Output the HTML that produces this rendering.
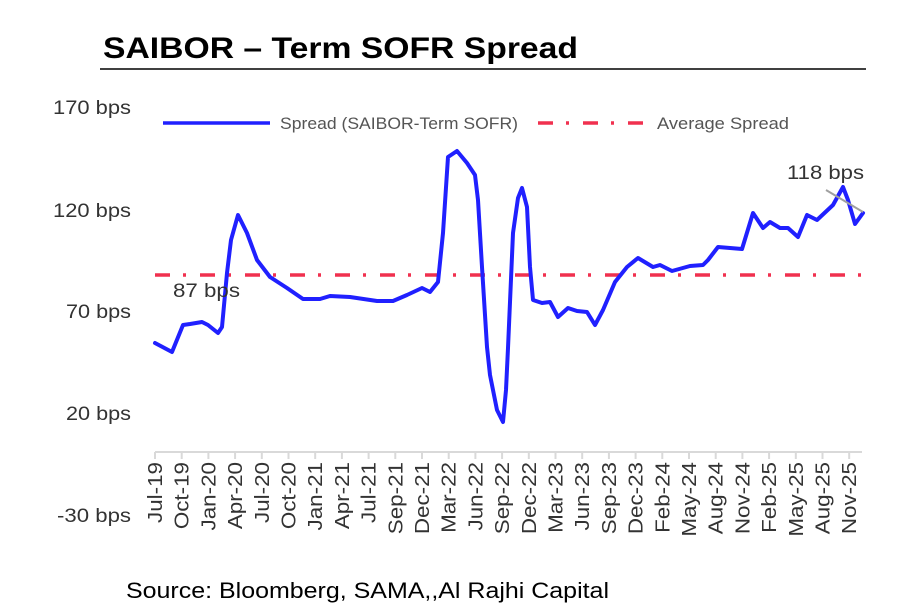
<!DOCTYPE html>
<html><head><meta charset="utf-8"><style>
html,body{margin:0;padding:0;background:#fff;}
svg{display:block;}
</style></head><body>
<svg width="903" height="615" xmlns="http://www.w3.org/2000/svg" font-family="Liberation Sans, sans-serif">
<text x="103" y="58" font-size="30" font-weight="bold" fill="#000" textLength="475" lengthAdjust="spacingAndGlyphs">SAIBOR – Term SOFR Spread</text>
<line x1="100" y1="69" x2="866" y2="69" stroke="#000" stroke-width="1.5"/>
<g font-size="19" fill="#333" text-anchor="end">
<text x="131" y="114" textLength="78" lengthAdjust="spacingAndGlyphs">170 bps</text>
<text x="131" y="217" textLength="78" lengthAdjust="spacingAndGlyphs">120 bps</text>
<text x="131" y="318" textLength="65" lengthAdjust="spacingAndGlyphs">70 bps</text>
<text x="131" y="420" textLength="65" lengthAdjust="spacingAndGlyphs">20 bps</text>
<text x="131" y="522" textLength="74" lengthAdjust="spacingAndGlyphs">-30 bps</text>
</g>
<line x1="163" y1="123" x2="270" y2="123" stroke="#2020ff" stroke-width="3.5"/>
<text x="280" y="129" font-size="17" fill="#555" textLength="238" lengthAdjust="spacingAndGlyphs">Spread (SAIBOR-Term SOFR)</text>
<line x1="538" y1="123" x2="646" y2="123" stroke="#f0304f" stroke-width="3.5" stroke-dasharray="15 13 3 14"/>
<text x="657" y="129" font-size="17" fill="#555" textLength="132" lengthAdjust="spacingAndGlyphs">Average Spread</text>
<line x1="155" y1="452" x2="862" y2="452" stroke="#d9d9d9" stroke-width="2"/>
<g stroke="#d9d9d9" stroke-width="2">
<line x1="155" y1="452" x2="155" y2="459"/>
<line x1="181.7" y1="452" x2="181.7" y2="459"/>
<line x1="208.4" y1="452" x2="208.4" y2="459"/>
<line x1="235.1" y1="452" x2="235.1" y2="459"/>
<line x1="261.8" y1="452" x2="261.8" y2="459"/>
<line x1="288.5" y1="452" x2="288.5" y2="459"/>
<line x1="315.2" y1="452" x2="315.2" y2="459"/>
<line x1="341.9" y1="452" x2="341.9" y2="459"/>
<line x1="368.6" y1="452" x2="368.6" y2="459"/>
<line x1="395.3" y1="452" x2="395.3" y2="459"/>
<line x1="422" y1="452" x2="422" y2="459"/>
<line x1="448.7" y1="452" x2="448.7" y2="459"/>
<line x1="475.4" y1="452" x2="475.4" y2="459"/>
<line x1="502.1" y1="452" x2="502.1" y2="459"/>
<line x1="528.8" y1="452" x2="528.8" y2="459"/>
<line x1="555.5" y1="452" x2="555.5" y2="459"/>
<line x1="582.2" y1="452" x2="582.2" y2="459"/>
<line x1="608.9" y1="452" x2="608.9" y2="459"/>
<line x1="635.6" y1="452" x2="635.6" y2="459"/>
<line x1="662.3" y1="452" x2="662.3" y2="459"/>
<line x1="689" y1="452" x2="689" y2="459"/>
<line x1="715.7" y1="452" x2="715.7" y2="459"/>
<line x1="742.4" y1="452" x2="742.4" y2="459"/>
<line x1="769.1" y1="452" x2="769.1" y2="459"/>
<line x1="795.8" y1="452" x2="795.8" y2="459"/>
<line x1="822.5" y1="452" x2="822.5" y2="459"/>
<line x1="849.2" y1="452" x2="849.2" y2="459"/>
</g>
<g font-size="20" fill="#333" text-anchor="end">
<text transform="translate(162,462) rotate(-90) scale(1.12,1)">Jul-19</text>
<text transform="translate(188.7,462) rotate(-90) scale(1.12,1)">Oct-19</text>
<text transform="translate(215.4,462) rotate(-90) scale(1.12,1)">Jan-20</text>
<text transform="translate(242.1,462) rotate(-90) scale(1.12,1)">Apr-20</text>
<text transform="translate(268.8,462) rotate(-90) scale(1.12,1)">Jul-20</text>
<text transform="translate(295.5,462) rotate(-90) scale(1.12,1)">Oct-20</text>
<text transform="translate(322.2,462) rotate(-90) scale(1.12,1)">Jan-21</text>
<text transform="translate(348.9,462) rotate(-90) scale(1.12,1)">Apr-21</text>
<text transform="translate(375.6,462) rotate(-90) scale(1.12,1)">Jul-21</text>
<text transform="translate(402.3,462) rotate(-90) scale(1.12,1)">Sep-21</text>
<text transform="translate(429,462) rotate(-90) scale(1.12,1)">Dec-21</text>
<text transform="translate(455.7,462) rotate(-90) scale(1.12,1)">Mar-22</text>
<text transform="translate(482.4,462) rotate(-90) scale(1.12,1)">Jun-22</text>
<text transform="translate(509.1,462) rotate(-90) scale(1.12,1)">Sep-22</text>
<text transform="translate(535.8,462) rotate(-90) scale(1.12,1)">Dec-22</text>
<text transform="translate(562.5,462) rotate(-90) scale(1.12,1)">Mar-23</text>
<text transform="translate(589.2,462) rotate(-90) scale(1.12,1)">Jun-23</text>
<text transform="translate(615.9,462) rotate(-90) scale(1.12,1)">Sep-23</text>
<text transform="translate(642.6,462) rotate(-90) scale(1.12,1)">Dec-23</text>
<text transform="translate(669.3,462) rotate(-90) scale(1.12,1)">Feb-24</text>
<text transform="translate(696,462) rotate(-90) scale(1.12,1)">May-24</text>
<text transform="translate(722.7,462) rotate(-90) scale(1.12,1)">Aug-24</text>
<text transform="translate(749.4,462) rotate(-90) scale(1.12,1)">Nov-24</text>
<text transform="translate(776.1,462) rotate(-90) scale(1.12,1)">Feb-25</text>
<text transform="translate(802.8,462) rotate(-90) scale(1.12,1)">May-25</text>
<text transform="translate(829.5,462) rotate(-90) scale(1.12,1)">Aug-25</text>
<text transform="translate(856.2,462) rotate(-90) scale(1.12,1)">Nov-25</text>
</g>
<line x1="155" y1="275" x2="862" y2="275" stroke="#f0304f" stroke-width="3.5" stroke-dasharray="15 13 3 14"/>
<polyline fill="none" stroke="#2020ff" stroke-width="4" stroke-linejoin="round" stroke-linecap="round" points="155,343 172,352 183,325 190,324 202,322 208,325 218,333 222,327 227,273 231,240 238,215 247,233 257,260 270,277 287,288 303,299 320,299 330,296 350,297 377,301 393,301 407,295 422,288 430,292 438,282 443,233 448,157 457,151 467,163 475,175 478,200 482,267 487,347 490,375 497,410 503,422 506,390 508,348 513,233 518,198 522,188 527,207 530,267 533,300 542,303 550,302 558,317 568,308 577,311 587,312 595,325 603,310 615,282 627,267 638,258 653,267 660,265 672,271 690,266 703,265 708,260 718,247 730,248 742,249 753,213 763,228 770,222 780,228 788,228 798,237 807,215 817,220 833,205 843,187 848,200 855,224 863,213"/>
<line x1="826" y1="190" x2="863" y2="212" stroke="#a0a0a0" stroke-width="2"/>
<text x="787" y="179" font-size="19" fill="#333" textLength="77" lengthAdjust="spacingAndGlyphs">118 bps</text>
<text x="173" y="297" font-size="19" fill="#333" textLength="67" lengthAdjust="spacingAndGlyphs">87 bps</text>
<text x="126" y="598" font-size="22" fill="#000" textLength="483" lengthAdjust="spacingAndGlyphs">Source: Bloomberg, SAMA,,Al Rajhi Capital</text>
</svg>
</body></html>
